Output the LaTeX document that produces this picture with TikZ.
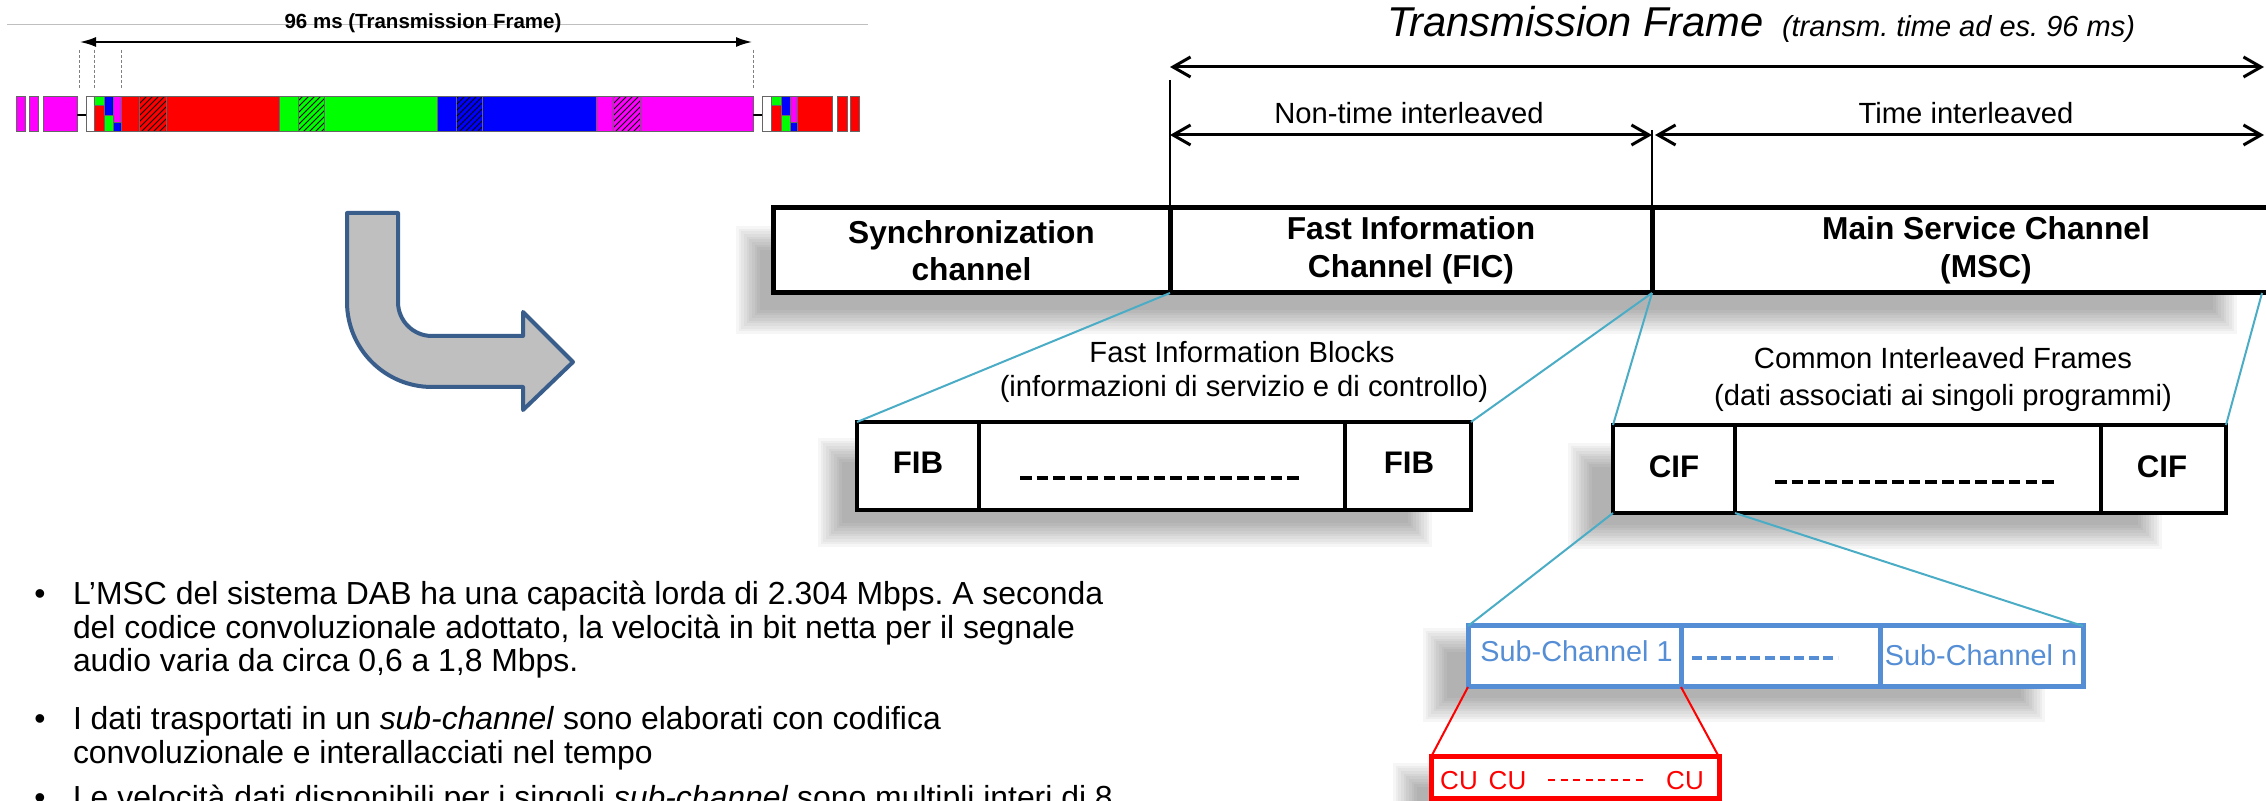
\documentclass[tikz,border=0pt]{standalone}
\usepackage{fontspec}
\setmainfont{Liberation Sans}
\usetikzlibrary{arrows.meta,patterns}
\frenchspacing

\definecolor{tealline}{RGB}{75,172,198}
\definecolor{subblue}{RGB}{85,142,213}
\definecolor{bendedge}{RGB}{58,94,140}
\definecolor{bendfill}{RGB}{191,191,191}
\definecolor{segred}{RGB}{255,0,0}
\definecolor{seggreen}{RGB}{0,255,0}
\definecolor{segblue}{RGB}{0,0,255}
\definecolor{segmag}{RGB}{255,0,255}

% soft grey shadow: x1, y1, x2, y2, blur width (all in picture units)
\newcommand{\softshade}[5]{%
  \foreach \k in {0,...,9}{%
    \pgfmathsetmacro{\dd}{-#5/2+\k*#5/9}%
    \fill[black, opacity=0.034] ({#1+\dd},{#2+\dd}) rectangle ({#3-\dd},{#4-\dd});
  }}

% the small coloured group of sub-blocks after each null symbol
\newcommand{\ficcluster}[1]{%
  \draw[seg, fill=seggreen] (#1,97) rectangle ({#1+10},106);
  \draw[seg, fill=segred]   (#1,106) rectangle ({#1+10},132);
  \draw[seg, fill=segblue]  ({#1+10},97) rectangle ({#1+19},116);
  \draw[seg, fill=seggreen] ({#1+10},116) rectangle ({#1+19},132);
  \draw[seg, fill=segmag]   ({#1+19},97) rectangle ({#1+27},123);
  \draw[seg, fill=segblue]  ({#1+19},123) rectangle ({#1+27},132);
}

% multi-line paragraph whose reference point is the first baseline
\newcommand{\paralines}[1]{\begin{tabular}[t]{@{}l@{}}#1\end{tabular}}

\begin{document}
\begin{tikzpicture}[x=0.5pt, y=-0.5pt,
  seg/.style={draw=gray!80!black, line width=0.5pt},
  mainbox/.style={draw=black, fill=white, line width=2.5pt, inner sep=0pt, outer sep=0pt,
    minimum height=42.5pt, align=center, font=\fontsize{15.85}{18.8}\selectfont\bfseries},
  cellbox/.style={draw=black, fill=white, line width=2.4pt, inner sep=0pt, outer sep=0pt,
    minimum height=44pt},
  subbox/.style={draw=subblue, fill=white, line width=2.5pt, inner sep=0pt, outer sep=0pt,
    minimum height=30.5pt},
  cubox/.style={draw=red, fill=white, line width=2.5pt, inner sep=0pt, outer sep=0pt,
    minimum width=144pt, minimum height=20.5pt},
  lbl/.style={inner sep=0pt, outer sep=0pt, anchor=base},
  plain/.style={font=\fontsize{14.6}{17}\selectfont},
  celltext/.style={font=\fontsize{15.6}{18}\selectfont\bfseries},
  subtext/.style={text=subblue, font=\fontsize{14.4}{17}\selectfont},
  cutext/.style={text=red, font=\fontsize{13}{15}\selectfont},
  dimarrow/.style={line width=1.5pt,
    {Straight Barb[length=8.75pt,width=10pt]}-{Straight Barb[length=8.75pt,width=10pt]}},
  thinrule/.style={line width=0.75pt},
  linkteal/.style={draw=tealline, line width=1pt},
  linkred/.style={draw=red, line width=1pt},
  fillerdash/.style={line width=1.75pt, dash pattern=on 5.8pt off 2.55pt},
  bullettext/.style={inner sep=0pt, outer sep=0pt, anchor=base west,
    font=\fontsize{15.95}{16.5}\selectfont},
  bulletmark/.style={inner sep=0pt, outer sep=0pt, anchor=base,
    font=\fontsize{15.95}{16.5}\selectfont}]

\useasboundingbox (0,0) rectangle (2266,801);
\clip (0,0) rectangle (2266,801);

% ---------- small transmission-frame strip ----------
\draw[gray!50, line width=0.5pt] (7,25) -- (868,25);
\node[lbl, font=\fontsize{10.25}{12}\selectfont\bfseries] (stripttl) at (423,28.5) {96 ms (Transmission Frame)};
\coordinate (fa) at (79,42);
\coordinate (fb) at (753,42);
\draw[line width=1.4pt, {Latex[length=8.5pt,width=5pt]}-{Latex[length=8.5pt,width=5pt]}] (fa) -- (fb);
\foreach \x in {79,94,121,753}
  \draw[gray, line width=0.4pt, dash pattern=on 1.5pt off 1pt] (\x,50) -- (\x,88);

\foreach \a/\b in {16/25, 29/38, 43/77}
  \draw[seg, fill=segmag] (\a,97) rectangle (\b,132);
\draw[black, line width=0.8pt] (77,115) -- (86,115);
\draw[seg, fill=white] (86,97) rectangle (94,132);
\ficcluster{94}
\foreach \c/\a/\b/\ha/\hb in {segred/121/279/139/166, seggreen/279/437/298/324,
                              segblue/437/596/456/482, segmag/596/753/613/640}{
  \draw[seg, fill=\c] (\a,97) rectangle (\b,132);
  \fill[pattern=north east lines] (\ha,97) rectangle (\hb,132);
  \draw[seg] (\ha,97) rectangle (\hb,132);
}
\draw[black, line width=0.8pt] (753,115) -- (762,115);
\draw[seg, fill=white] (762,97) rectangle (771,132);
\ficcluster{771}
\foreach \a/\b in {797/832, 837/847, 850/859}
  \draw[seg, fill=segred] (\a,97) rectangle (\b,132);

% ---------- bent arrow ----------
\draw[draw=bendedge, fill=bendfill, line width=2pt, line join=round]
  (347,213) -- (398,213) -- (398,302)
  .. controls (398,320.8) and (413.2,336) .. (432,336)
  -- (523,336) -- (523,312) -- (573,362) -- (523,410) -- (523,387) -- (432,387)
  .. controls (385.1,387) and (347,348.9) .. (347,302) -- cycle;

% ---------- shadows ----------
\softshade{748}{238}{2225}{322}{24}
\softshade{830}{450}{1420}{535}{24}
\softshade{1580}{455}{2150}{537}{24}
\softshade{1435}{640}{2033}{710}{24}
\softshade{1405}{775}{1700}{835}{24}

% ---------- frame header ----------
\node[lbl, anchor=base west, font=\fontsize{20.85}{25}\selectfont\itshape] (tftitle) at (1387,37) {Transmission Frame};
\node[lbl, anchor=base west, font=\fontsize{14.5}{17}\selectfont\itshape] (tfnote) at (1782,37) {(transm. time ad es. 96 ms)};

\coordinate (tfL) at (1170,67);
\coordinate (tfR) at (2264,67);
\coordinate (ntL) at (1170,135);
\coordinate (ntR) at (1652,135);
\coordinate (tiL) at (1655,135);
\coordinate (tiR) at (2264,135);
\coordinate (vA) at (1170,80);
\coordinate (vB) at (1652,130);
\draw[dimarrow] (tfL) -- (tfR);
\draw[dimarrow] (ntL) -- (ntR);
\draw[dimarrow] (tiL) -- (tiR);
\node[lbl, plain] (nti) at (1409,124) {Non-time interleaved};
\node[lbl, plain] (ti) at (1966,124) {Time interleaved};

% ---------- frame channels ----------
\node[mainbox, minimum width=198.5pt] (sync) at (971.5,250.5) {Synchronization\\channel};
\node[mainbox, minimum width=241pt] (fic) at (1411,250.5) {Fast Information\\Channel (FIC)};
\node[mainbox, minimum width=334pt] (msc) at (1986,250.5) {Main Service Channel\\(MSC)};
\coordinate (mscR) at (2262,293);
\draw[thinrule] (vA) -- (sync.north east);
\draw[thinrule] (vB) -- (fic.north east);

% ---------- FIB row ----------
\node[lbl, plain] (fibt1) at (1242,362.7) {Fast Information Blocks};
\node[lbl, plain] (fibt2) at (1244,397) {(informazioni di servizio e di controllo)};
\node[cellbox, minimum width=61pt] (fibA) at (918,466) {};
\node[cellbox, minimum width=183pt] (fibM) at (1162,466) {};
\node[cellbox, minimum width=63pt] (fibB) at (1408,466) {};
\node[lbl, celltext] (fibAt) at (918,474) {FIB};
\node[lbl, celltext] (fibBt) at (1409,474) {FIB};
\draw[fillerdash] (1020,478) -- (1303,478);

% ---------- CIF row ----------
\node[lbl, plain] (cift1) at (1943,369) {Common Interleaved Frames};
\node[lbl, plain] (cift2) at (1943,406) {(dati associati ai singoli programmi)};
\node[cellbox, minimum width=61pt] (cifA) at (1674,469) {};
\node[cellbox, minimum width=183pt] (cifM) at (1918,469) {};
\node[cellbox, minimum width=62.5pt] (cifB) at (2163.5,469) {};
\node[lbl, celltext] (cifAt) at (1674,477.3) {CIF};
\node[lbl, celltext] (cifBt) at (2162,477.3) {CIF};
\draw[fillerdash] (1775,482) -- (2055,482);

% ---------- sub-channel row ----------
\node[subbox, minimum width=106.5pt] (sub1) at (1574.5,656.5) {};
\node[subbox, minimum width=99.5pt] (subM) at (1780.5,656.5) {};
\node[subbox, minimum width=101.5pt] (subn) at (1981.5,656.5) {};
\node[lbl, subtext] (sub1t) at (1576.5,661.7) {Sub-Channel 1};
\node[lbl, subtext] (subnt) at (1981,666) {Sub-Channel n};
\draw[subblue, line width=2pt, dash pattern=on 5pt off 2.3pt] (1692,658) -- (1838,658);

% ---------- capacity units ----------
\node[cubox] (cu) at (1575,777.5) {};
\node[lbl, cutext] (cu1) at (1459,790) {CU};
\node[lbl, cutext] (cu2) at (1507.5,790) {CU};
\node[lbl, cutext] (cu3) at (1685,790) {CU};
\draw[red, line width=1pt, dash pattern=on 3.5pt off 2.75pt] (1548,780) -- (1645,780);

% ---------- zoom connectors ----------
\draw[linkteal] (sync.south east) -- (fibA.north west);
\draw[linkteal] (fic.south east) -- (fibB.north east);
\draw[linkteal] (fic.south east) -- (cifA.north west);
\draw[linkteal] (mscR) -- (cifB.north east);
\draw[linkteal] (cifA.south west) -- (sub1.north west);
\draw[linkteal] (cifA.south east) -- (subn.north east);
\draw[linkred] (sub1.south west) -- (cu.north west);
\draw[linkred] (sub1.south east) -- (cu.north east);

% ---------- notes ----------
\node[bulletmark] (m1) at (40,605) {•};
\node[bullettext] (p1) at (73,605) {\paralines{L'MSC del sistema DAB ha una capacità lorda di 2.304 Mbps. A seconda\\
  del codice convoluzionale adottato, la velocità in bit netta per il segnale\\
  audio varia da circa 0,6 a 1,8 Mbps.}};
\node[bulletmark] (m2) at (40,730) {•};
\node[bullettext] (p2) at (73,730) {\paralines{I dati trasportati in un \textit{sub-channel} sono elaborati con codifica\\
  convoluzionale e interallacciati nel tempo}};
\node[bulletmark] (m3) at (40,808) {•};
\node[bullettext] (p3) at (73,808) {Le velocità dati disponibili per i singoli \textit{sub-channel} sono multipli interi di 8};
\end{tikzpicture}
\end{document}
